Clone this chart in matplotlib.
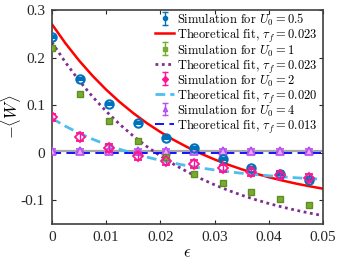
import matplotlib
matplotlib.use("Agg")
import matplotlib.pyplot as plt

plt.rcParams['mathtext.fontset'] = 'cm'
plt.rcParams['font.family'] = ['Liberation Serif', 'DejaVu Serif']

# simulation data
eps_sim = [0, 0.00526, 0.0105, 0.0158, 0.0211, 0.0263, 0.0316, 0.0368, 0.0421, 0.0474]
w_u05 = [0.244, 0.154, 0.102, 0.062, 0.031, 0.010, -0.014, -0.032, -0.044, -0.058]
w_u1 = [0.221, 0.123, 0.067, 0.024, -0.010, -0.044, -0.063, -0.082, -0.097, -0.110]
w_u2 = [0.074, 0.033, 0.010, -0.008, -0.018, -0.024, -0.033, -0.040, -0.047, -0.053]
w_u4 = [0.004, 0.004, 0.004, 0.004, 0.004, 0.004, 0.004, 0.004, 0.004, 0.004]
err_u05 = [0.002] * 10
err_u1 = [0.002] * 10
err_u2 = [0.008] * 10
err_u4 = [0.003] * 10

# theoretical fit curves
eps_fit = [0, 0.0025, 0.005, 0.0075, 0.01, 0.0125, 0.015, 0.0175, 0.02, 0.0225, 0.025,
           0.0275, 0.03, 0.0325, 0.035, 0.0375, 0.04, 0.0425, 0.045, 0.0475, 0.05]
fit_u05 = [0.270, 0.2298, 0.1938, 0.1615, 0.1325, 0.1065, 0.0832, 0.0622, 0.0435, 0.0266, 0.0115,
           -0.0020, -0.0142, -0.0251, -0.0349, -0.0436, -0.0515, -0.0585, -0.0649, -0.0705, -0.0757]
fit_u1 = [0.232, 0.1897, 0.1517, 0.1176, 0.0871, 0.0597, 0.0351, 0.0131, -0.0068, -0.0245, -0.0404,
          -0.0547, -0.0675, -0.0790, -0.0893, -0.0985, -0.1068, -0.1142, -0.1209, -0.1269, -0.1323]
fit_u2 = [0.0720, 0.0556, 0.0412, 0.0284, 0.0171, 0.0072, -0.0015, -0.0093, -0.0161, -0.0221, -0.0275,
          -0.0322, -0.0363, -0.0400, -0.0432, -0.0460, -0.0485, -0.0508, -0.0527, -0.0544, -0.0560]
fit_u4 = [-0.0005] * 21

sim_labels = [r'Simulation for $U_0 = 0.5$', r'Simulation for $U_0 = 1$',
              r'Simulation for $U_0 = 2$', r'Simulation for $U_0 = 4$']
fit_labels = [r'Theoretical fit, $\tau_f = 0.023$', r'Theoretical fit, $\tau_f = 0.023$',
              r'Theoretical fit, $\tau_f = 0.020$', r'Theoretical fit, $\tau_f = 0.013$']

xticks = [0, 0.01, 0.02, 0.03, 0.04, 0.05]
xticklabels = ['0', '0.01', '0.02', '0.03', '0.04', '0.05']
yticks = [-0.1, 0, 0.1, 0.2, 0.3]
yticklabels = ['-0.1', '0', '0.1', '0.2', '0.3']

# styles
sim_styles = [
    dict(marker='o', mfc='#0072bd', mec='#0072bd', ecolor='#0072bd'),
    dict(marker='s', mfc='#77ac30', mec='#77ac30', ecolor='#77ac30'),
    dict(marker='D', mfc='#ff1493', mec='#ff1493', ecolor='#ff1493'),
    dict(marker='^', mfc='#c86bff', mec='#b94ef0', ecolor='#b94ef0'),
]
fit_styles = [
    dict(color='#ff0000', lw=1.8, ls='-'),
    dict(color='#7e2f8e', lw=2.0, ls=(0, (1, 1.3))),
    dict(color='#4dbeee', lw=2.0, ls=(0, (3.5, 1.8))),
    dict(color='#0000ff', lw=1.3, ls=(0, (5, 3))),
]

fig = plt.figure(figsize=(3.58, 2.68), dpi=100)
ax = fig.add_axes([0.145, 0.164, 0.757, 0.799])

ax.axhline(0.0025, color='#a6a6a6', lw=1.6, zorder=1)

for yv, st in zip([fit_u05, fit_u1, fit_u2, fit_u4], fit_styles):
    ax.plot(eps_fit, yv, zorder=2, **st)

ax.errorbar(eps_sim, w_u05, yerr=err_u05, fmt='o', ms=6, mfc='none', mec='#0072bd', mew=1.5,
            ecolor='#0072bd', elinewidth=1.2, capsize=3, zorder=4)
ax.errorbar(eps_sim, w_u1, yerr=err_u1, fmt='s', ms=5, mfc='#77ac30', mec='#5f8f20', mew=1.0,
            ecolor='#c8e0a0', elinewidth=1.0, capsize=2.5, zorder=4)
ax.errorbar(eps_sim, w_u2, yerr=err_u2, fmt='D', ms=5, mfc='none', mec='#ff1493', mew=1.3,
            ecolor='#ff1493', elinewidth=1.0, capsize=3, zorder=4)
ax.errorbar(eps_sim, w_u4, yerr=err_u4, fmt='^', ms=6, mfc='#e6a8ff', mec='#b94ef0', mew=1.2,
            ecolor='#b94ef0', elinewidth=1.0, capsize=3, zorder=3)

ax.set_xlim(0, 0.05)
ax.set_ylim(-0.15, 0.3)
ax.set_xticks(xticks)
ax.set_xticklabels(xticklabels)
ax.set_yticks(yticks)
ax.set_yticklabels(yticklabels)
ax.tick_params(direction='in', top=True, right=True, labelsize=11, length=3, width=0.8,
               color='#262626', labelcolor='#262626', pad=5)
for sp in ax.spines.values():
    sp.set_color('#404040')
    sp.set_linewidth(1.2)

ax.set_xlabel(r'$\epsilon$', fontsize=12, labelpad=1)
ax.set_ylabel(r'$-\langle W\rangle$', fontsize=12)
ax.yaxis.set_label_coords(-0.105, 0.5)

# legend (evenly spaced rows, drawn in axes coordinates)
row0 = 0.961
drow = 0.0706
hx0, hx1, hxm, tx = 0.380, 0.452, 0.417, 0.460
half = 0.03
tr = ax.transAxes
for i in range(4):
    ys = row0 - (2 * i) * drow
    yf = row0 - (2 * i + 1) * drow
    st = sim_styles[i]
    ax.plot([hxm, hxm], [ys - half, ys + half], color=st['ecolor'], lw=1.0,
            transform=tr, clip_on=False, zorder=10)
    ax.plot([hxm, hxm], [ys - half, ys + half], ls='none', marker='_', ms=4, mew=1.0,
            color=st['ecolor'], transform=tr, clip_on=False, zorder=10)
    ax.plot([hxm], [ys], ls='none', marker=st['marker'], ms=3, mfc=st['mfc'], mec=st['mec'],
            transform=tr, clip_on=False, zorder=11)
    ax.text(tx, ys, sim_labels[i], transform=tr, fontsize=9, family='cmr10',
            va='center_baseline', ha='left', zorder=11)
    ax.plot([hx0, hx1], [yf, yf], transform=tr, clip_on=False, zorder=10, **fit_styles[i])
    ax.text(tx, yf, fit_labels[i], transform=tr, fontsize=9, family='cmr10',
            va='center_baseline', ha='left', zorder=11)

fig.savefig('out.png', dpi=100)
